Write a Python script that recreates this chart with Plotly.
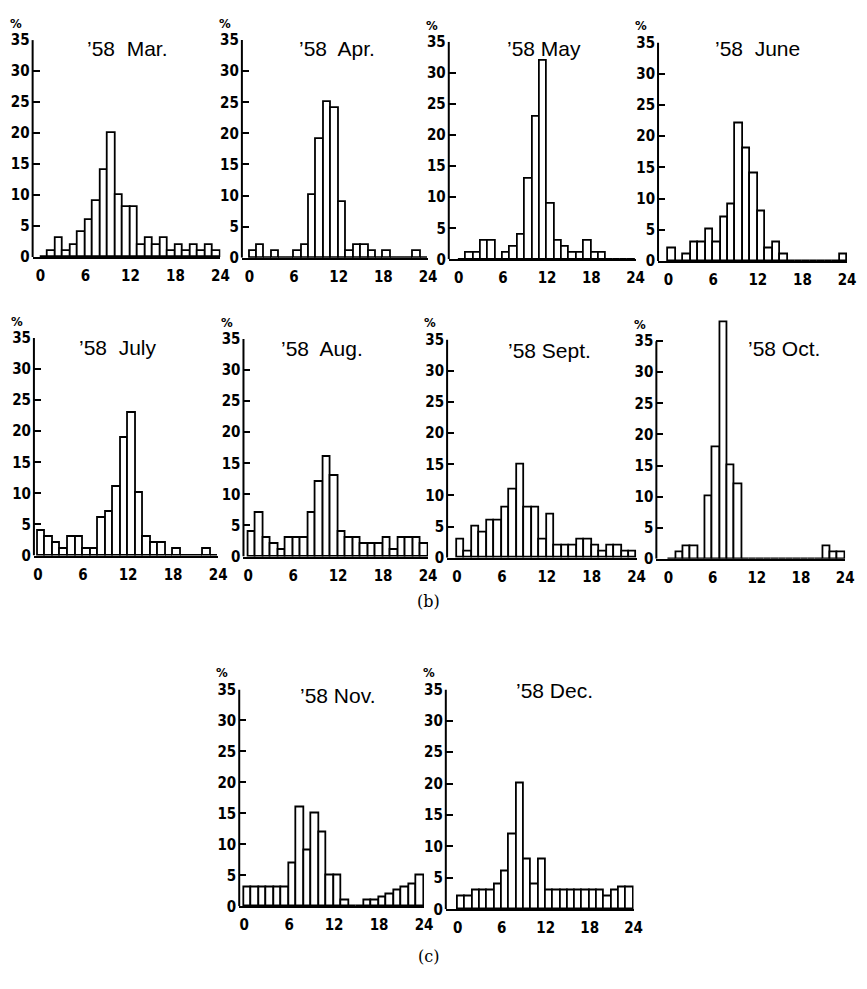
import plotly.graph_objects as go

# ---------------- data (percent of observations per hour, 0-23 h) ----------------
HOURS = list(range(24))
XTICKS = [0, 6, 12, 18, 24]
YTICKS = [0, 5, 10, 15, 20, 25, 30, 35]

TITLES = ["’58  Mar.", "’58  Apr.", "’58 May", "’58  June",
          "’58  July", "’58  Aug.", "’58 Sept.", "’58 Oct.",
          "’58 Nov.", "’58 Dec."]

mar = [0, 1, 3, 1, 2, 4, 6, 9, 14, 20, 10, 8, 8, 2, 3, 2, 3, 1, 2, 1, 2, 1, 2, 1]
apr = [1, 2, 0, 1, 0, 0, 1, 2, 10, 19, 25, 24, 9, 1, 2, 2, 1, 0, 1, 0, 0, 0, 1, 0]
may = [0, 1, 1, 3, 3, 0, 1, 2, 4, 13, 23, 32, 9, 3, 2, 1, 1, 3, 1, 1, 0, 0, 0, 0]
jun = [2, 0, 1, 3, 3, 5, 3, 7, 9, 22, 18, 14, 8, 2, 3, 1, 0, 0, 0, 0, 0, 0, 0, 1]
jul = [4, 3, 2, 1, 3, 3, 1, 1, 6, 7, 11, 19, 23, 10, 3, 2, 2, 0, 1, 0, 0, 0, 1, 0]
aug = [4, 7, 3, 2, 1, 3, 3, 3, 7, 12, 16, 13, 4, 3, 3, 2, 2, 2, 3, 1, 3, 3, 3, 2]
sep = [3, 1, 5, 4, 6, 6, 8, 11, 15, 8, 8, 3, 7, 2, 2, 2, 3, 3, 2, 1, 2, 2, 1, 1]
oct_ = [0, 1, 2, 2, 0, 10, 18, 38, 15, 12, 0, 0, 0, 0, 0, 0, 0, 0, 0, 0, 0, 2, 1, 1]
nov = [3, 3, 3, 3, 3, 3, 7, 16, 9, 15, 12, 5, 5, 1, 0, 0, 1, 1, 1.5, 2, 2.5, 3, 3.5, 5]
dec = [2, 2, 3, 3, 3, 4, 6, 12, 20, 8, 4, 8, 3, 3, 3, 3, 3, 3, 3, 3, 2, 3, 3.5, 3.5]

SERIES = [mar, apr, may, jun, jul, aug, sep, oct_, nov, dec]

# ---------------- layout geometry (pixels) ----------------
W, H = 867, 989
# (y-axis x, hour-0 x, hour-24 x, 35% y, 0% y)
GEOM = [
    (32, 40, 222, 31.7, 252.7),
    (243.7, 251.3, 432, 31.7, 253.3),
    (453, 463, 642, 33.3, 255),
    (664.7, 675.3, 856, 34, 256.7),
    (33.3, 37.3, 219.7, 335, 556.7),
    (245.3, 250, 432, 336, 557.7),
    (451.3, 461.3, 643, 336.7, 559),
    (663, 675.3, 854, 338.3, 560),
    (241, 246, 428, 693, 914),
    (450, 462, 640, 693, 917),
]
TITLE_POS = [(128, 40), (340, 40), (549, 40), (765, 40),
             (118, 345), (325, 346), (555, 348), (792, 346),
             (340, 699), (560, 694)]

TICKFONT = dict(family="Liberation Sans Narrow, DejaVu Sans Condensed, sans-serif",
                size=15, color="black", weight="bold")
TITLEFONT = dict(family="Liberation Sans, Arial, sans-serif", size=21, color="black")

fig = go.Figure()
annotations = []
shapes = []

for i, (vals, geo, title, tpos) in enumerate(zip(SERIES, GEOM, TITLES, TITLE_POS)):
    ax_x, h0, h24, top, base = geo
    pph = (h24 - h0) / 24.0
    xmin = -(h0 - ax_x) / pph
    ppp = (base - top) / 35.0           # pixels per percent
    ymax = max(35.0, max(vals) + 1.0)   # room for bars taller than the 35 % tick
    dom_top = base - ppp * ymax
    n = "" if i == 0 else str(i + 1)
    fig.add_trace(go.Bar(
        x=HOURS, y=vals, width=1, offset=0,
        marker=dict(color="white", line=dict(color="black", width=1.8)),
        xaxis="x" + n, yaxis="y" + n, showlegend=False, hoverinfo="skip",
    ))
    fig.layout["xaxis" + n] = dict(
        domain=[ax_x / W, h24 / W], range=[xmin, 24], anchor="y" + n,
        showline=True, linecolor="black", linewidth=2, showgrid=False,
        zeroline=False, ticks="", tickvals=XTICKS, tickfont=TICKFONT,
        ticklabelstandoff=4, fixedrange=True,
    )
    fig.layout["yaxis" + n] = dict(
        domain=[1 - base / H, 1 - dom_top / H], range=[0, ymax], anchor="x" + n,
        showline=False, showgrid=False,
        zeroline=False, ticks="inside", ticklen=7, tickwidth=2, tickcolor="black",
        tickvals=YTICKS, tickfont=TICKFONT, ticklabelstandoff=2, fixedrange=True,
    )
    # vertical axis line from 0 to 35 %
    shapes.append(dict(type="line", xref="x" + n + " domain", yref="y" + n,
                       x0=0, x1=0, y0=0, y1=35,
                       line=dict(color="black", width=2)))
    annotations.append(dict(
        text=title, x=tpos[0] / W, y=1 - tpos[1] / H, xref="paper", yref="paper",
        showarrow=False, font=TITLEFONT, xanchor="center", yanchor="middle",
    ))
    annotations.append(dict(
        text="<b>%</b>", x=(ax_x - 17) / W, y=1 - (top - 17) / H, xref="paper",
        yref="paper", showarrow=False,
        font=dict(family="DejaVu Sans Condensed, DejaVu Sans", size=13, color="black"),
        xanchor="center", yanchor="middle",
    ))

annotations.append(dict(text="(b)", x=432 / W, y=1 - 603 / H, xref="paper", yref="paper",
                        showarrow=False, xanchor="center", yanchor="middle",
                        font=dict(family="DejaVu Serif", size=16, color="black")))
annotations.append(dict(text="(c)", x=432 / W, y=1 - 965 / H, xref="paper", yref="paper",
                        showarrow=False, xanchor="center", yanchor="middle",
                        font=dict(family="DejaVu Serif", size=16, color="black")))

fig.update_layout(
    width=W, height=H, margin=dict(l=0, r=0, t=0, b=0),
    paper_bgcolor="white", plot_bgcolor="white",
    annotations=annotations, shapes=shapes, bargap=0, hovermode=False,
)

fig.write_html(
    "out.html",
    config={"displayModeBar": False, "staticPlot": False},
    post_script="document.body.style.margin='0px'; document.body.style.overflow='hidden';",
)
